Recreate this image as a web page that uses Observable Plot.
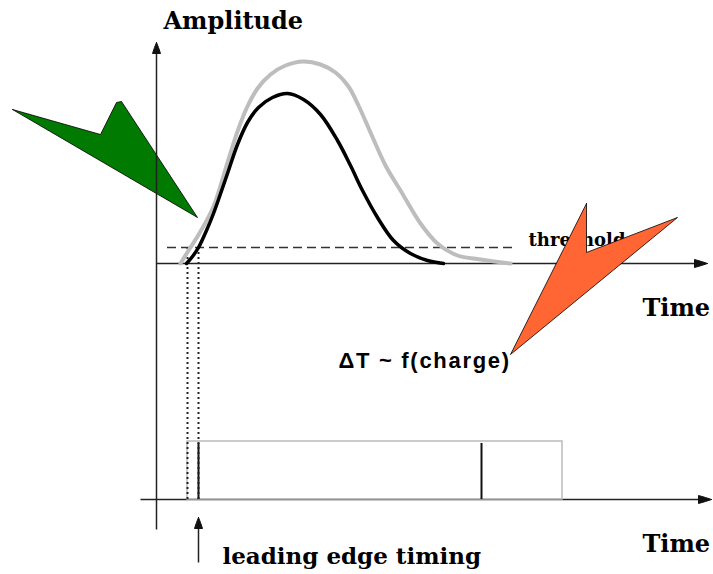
<!DOCTYPE html>
<html><head><meta charset="utf-8">
<script src="https://cdn.jsdelivr.net/npm/d3@7"></script>
<script src="https://cdn.jsdelivr.net/npm/@observablehq/plot@0.6"></script>
<style>body{margin:0;background:#fff}svg{display:block}</style>
</head><body><div id="chart"></div>
<script>
// Units: time = px right of the amplitude axis, amplitude = px above the upper baseline
const grayTime  = [24,32,44,57,71,81,90,101,114,129,147,164,179,192,202,214,229,244,264,281,301,324,354];
const grayAmp   = [0,13,32,57,101,132,155,175,189,198,202,199,191,177,158,131,98,73,40,20,8,4,0];
const blackTime = [30,36,42,50,57,71,81,91,102,116,131,147,164,181,194,206,221,237,254,271,287];
const blackAmp  = [0,7,16,33,50,90,119,141,156,166,170,164,149,123,98,73,46,23,10,3,0];

const thresholdLevel = 16;
const thresholdFrom = 11, thresholdTo = 361;
const crossingTimes = [31, 42];          // gray / black threshold crossings
const signalEndTimes = [406, 325];      // gray / black discriminator output end
const signalLevel = -178;
const lowerBaseline = -236;
const ampAxisBottom = -266;

// annotation arrow shapes (time, amplitude)
const greenT = [-144,-56,-40,-35,41,-144];
const greenA = [154,129,161,162,46,154];
const orangeT = [430,430,521,354,430];
const orangeA = [60,11,46,-91,60];

// axis arrowheads
const headVT = [0,2,4,-4,-2,0],        headVA = [221,216,210,210,216,221];
const headUT = [551,545,538,538,545,551], headUA = [0,2,4,-4,-2,0];
const headLT = [555,549,542,542,549,555], headLA = [-236,-234,-232,-240,-238,-236];
const headST = [42,44,46,38,40,42],    headSA = [-254,-259,-265,-265,-259,-254];

const labels = ["Amplitude","threshold","Time","Time","leading edge timing"];
const labelT = [7, 372, 486, 486, 66];
const labelA = [235, 18, -52, -288, -300];
const labelSize = [24, 18, 24, 24, 23];
const formula = "ΔT ~ f(charge)";
const formulaT = 182, formulaA = -104;

const pts = (T, A, id) => T.map((t, i) => ({t, a: A[i], id}));
const gray = pts(grayTime, grayAmp, "gray");
const black = pts(blackTime, blackAmp, "black");
const green = pts(greenT, greenA, "g");
const orange = pts(orangeT, orangeA, "o");
const heads = [...pts(headVT, headVA, "v"), ...pts(headUT, headUA, "u"), ...pts(headLT, headLA, "l"), ...pts(headST, headSA, "s")];
const axes = [
  {x1: 0, y1: ampAxisBottom, x2: 0, y2: 214},
  {x1: 0, y1: 0, x2: 540, y2: 0},
  {x1: -16, y1: lowerBaseline, x2: 544, y2: lowerBaseline},
  {x1: 42, y1: -299, x2: 42, y2: -262}
];
const labelData = labels.map((s, i) => ({s, t: labelT[i], a: labelA[i], size: labelSize[i]}));
const serif = "DejaVu Serif";

const chart = Plot.plot({
  width: 713, height: 574,
  marginTop: 0, marginRight: 0, marginBottom: 0, marginLeft: 0,
  x: {domain: [-156, 557], range: [0, 713], axis: null},
  y: {domain: [-311, 263], range: [574, 0], axis: null},
  style: {background: "#fff"},
  marks: [
    Plot.line(green, {x: "t", y: "a", z: "id", fill: "#007a00", stroke: "#000", strokeWidth: 0.8}),
    Plot.link(axes, {x1: "x1", y1: "y1", x2: "x2", y2: "y2", stroke: "#222", strokeWidth: 1.5}),
    Plot.line(heads, {x: "t", y: "a", z: "id", fill: "#111", stroke: "#111", strokeWidth: 1}),
    Plot.rect([0], {x1: crossingTimes[0], x2: signalEndTimes[0], y1: lowerBaseline, y2: signalLevel, fill: "none", stroke: "#bbb", strokeWidth: 1.5}),
    Plot.ruleX([crossingTimes[1], signalEndTimes[1]], {y1: lowerBaseline, y2: signalLevel - 2, stroke: "#111", strokeWidth: 2}),
    Plot.ruleX(crossingTimes, {y1: thresholdLevel, y2: lowerBaseline, stroke: "#222", strokeWidth: 2, strokeDasharray: "2,3"}),
    Plot.ruleY([thresholdLevel], {x1: thresholdFrom, x2: thresholdTo, stroke: "#333", strokeWidth: 1.5, strokeDasharray: "9,5"}),
    Plot.line(gray, {x: "t", y: "a", stroke: "#bdbdbd", strokeWidth: 4, curve: "catmull-rom"}),
    Plot.line(black, {x: "t", y: "a", stroke: "#000", strokeWidth: 3.5, curve: "catmull-rom"}),
    Plot.text(labelData, {x: "t", y: "a", text: "s", fontSize: "size", textAnchor: "start", lineAnchor: "bottom", fontFamily: serif, fontWeight: "bold", fill: "#000"}),
    Plot.text([formula], {x: formulaT, y: formulaA, text: d => d, fontSize: 22, textAnchor: "start", lineAnchor: "bottom", fontFamily: "Liberation Sans", fontWeight: "bold", fill: "#000"}),
    Plot.line(orange, {x: "t", y: "a", z: "id", fill: "#ff6633", stroke: "#000", strokeWidth: 0.8})
  ]
});
document.getElementById("chart").appendChild(chart);
d3.select(chart).selectAll("text").filter(function() { return this.textContent === formula; }).style("letter-spacing", "1.7px");
</script>
</body></html>
